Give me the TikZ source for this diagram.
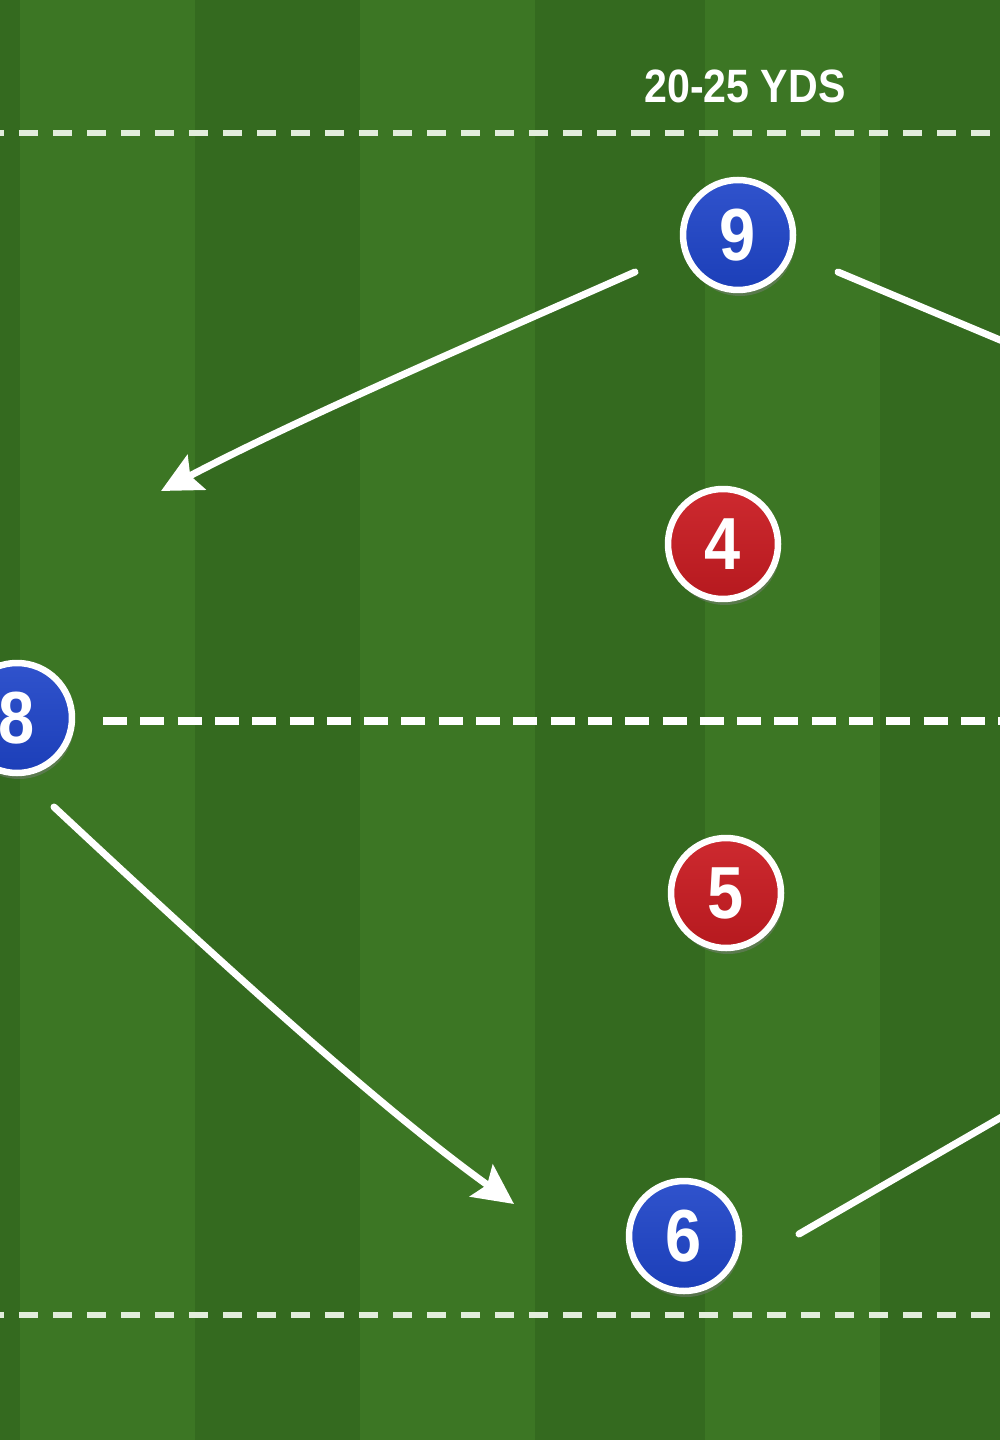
\documentclass[tikz,border=0pt]{standalone}
\usepackage{fontspec}
\newfontfamily\ydsfont[FakeStretch=0.88]{Liberation Sans}
\usetikzlibrary{arrows.meta,shadows}
\definecolor{grassdark}{RGB}{52,106,31}
\definecolor{grasslight}{RGB}{60,118,36}
\definecolor{chalk}{RGB}{226,237,220}
\definecolor{teamblue}{RGB}{30,68,200}
\definecolor{teamred}{RGB}{202,28,34}
\begin{document}
\begin{tikzpicture}[x=0.1mm, y=-0.1mm, line join=round, line cap=round, >={Stealth[length=4mm, width=3.9mm, inset=0.7mm]},
	player/.style={circle, draw=white, line width=0.65mm, minimum size=11mm, inner sep=0pt, text=white, font=\ydsfont\bfseries\fontsize{21pt}{22pt}\selectfont, drop shadow={shadow xshift=0.2mm, shadow yshift=-0.6mm, opacity=0.45}},
	bluep/.style={player, top color=teamblue!92!white, bottom color=teamblue!92!black},
	redp/.style={player, top color=teamred!94!white, bottom color=teamred!90!black},
	run/.style={white, line width=0.7mm},
	chalkline/.style={chalk, line width=0.6mm, line cap=butt, dash pattern=on 1.9mm off 1.5mm}]
	\useasboundingbox (0,0) rectangle (1000,1440);
	\clip (0,0) rectangle (1000,1440);
	\fill[grassdark] (0,0) rectangle (1000,1440);%san
	\foreach \x in {20,360,705} \fill[grasslight] (\x,0) rectangle ++(175,1440);%soc
	\draw[chalkline] (-15,133)--(1010,133);%vach tren
	\draw[chalkline, white, line width=0.8mm, dash pattern=on 2.4mm off 1.33mm] (103,721)--(1010,721);%vach giua
	\draw[chalkline] (-15,1315)--(1010,1315);%vach duoi
	\node[white, font=\ydsfont\bfseries\fontsize{13.3pt}{14pt}\selectfont, anchor=base] (yds) at (745,103) {20-25 YDS};
	\node[bluep] (p9) at (738,235) {9};
	\node[redp] (p4) at (723,544) {4};
	\node[bluep] (p8) at (17,718) {8};
	\node[redp] (p5) at (726,893) {5};
	\node[bluep] (p6) at (684,1236) {6};
	\coordinate (a9) at (635,272); \coordinate (t9) at (161,491);
	\coordinate (b9) at (838,272); \coordinate (e9) at (1012,345);
	\coordinate (a8) at (54,807); \coordinate (t8) at (514,1204);
	\coordinate (a6) at (799,1234); \coordinate (e6) at (1012,1111);
	\draw[run, ->] (a9) .. controls (470,345) and (300,418) .. (t9);%tu 9
	\draw[run] (b9)--(e9);%tu 9
	\draw[run, ->] (a8) .. controls (250,990) and (390,1115) .. (t8);%tu 8
	\draw[run] (a6)--(e6);%tu 6
\end{tikzpicture}
\end{document}
